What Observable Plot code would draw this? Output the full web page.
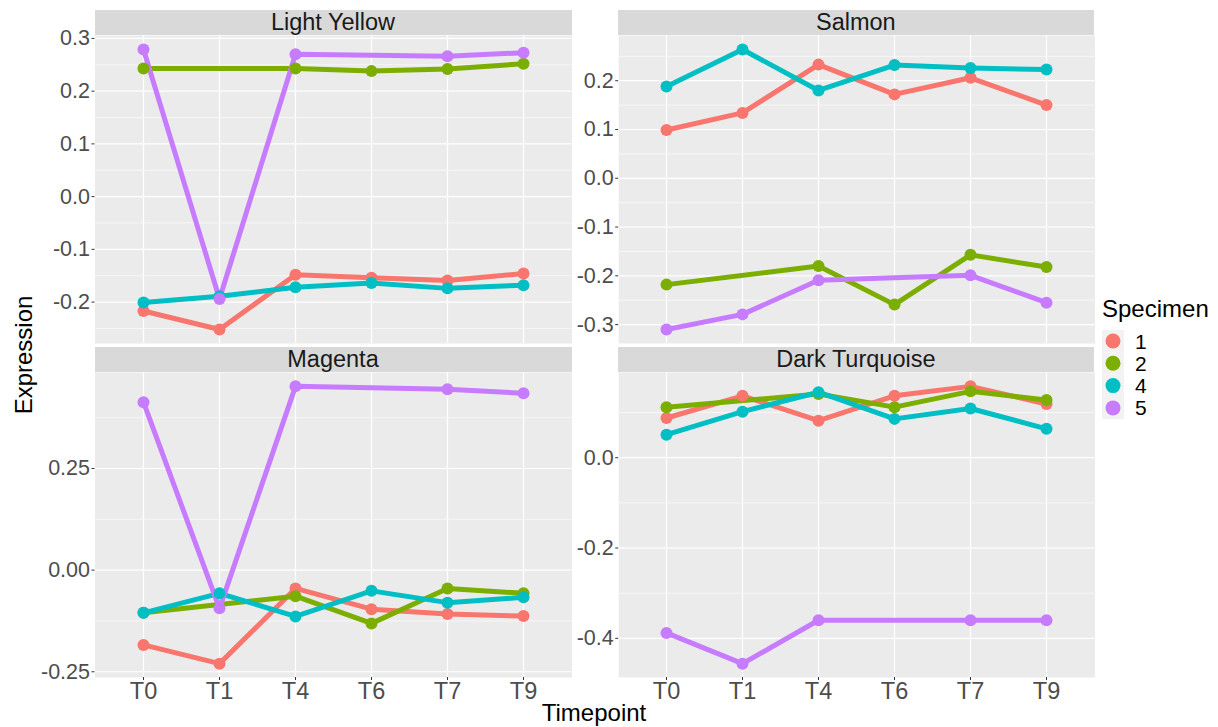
<!DOCTYPE html>
<html><head><meta charset="utf-8">
<script src="https://cdn.jsdelivr.net/npm/d3@7"></script>
<script src="https://cdn.jsdelivr.net/npm/@observablehq/plot@0.6"></script>
<style>
body{margin:0;background:#fff;font-family:"Liberation Sans",Arial,sans-serif;}
#chart{position:relative;width:1218px;height:727px;overflow:hidden;background:#fff;}
.strip{position:absolute;background:#D9D9D9;color:#1A1A1A;font-size:23.5px;text-align:center;}
.pan{position:absolute;}
.pan svg{overflow:visible;}
#overlay{position:absolute;left:0;top:0;pointer-events:none;}
</style></head>
<body><div id="chart"></div>
<script>
const timepoints = ["T0","T1","T4","T6","T7","T9"];
const specimens = ["1","2","4","5"];
const colors = ["#F8766D","#7CAE00","#00BFC4","#C77CFF"];
const panelNames = ["Light Yellow","Salmon","Magenta","Dark Turquoise"];

// values per specimen at T0,T1,T4,T6,T7,T9 (null = no measurement)
const lightYellow = {
  "1": [-0.217,-0.252,-0.148,-0.154,-0.159,-0.146],
  "2": [0.243,null,0.243,0.238,0.242,0.252],
  "4": [-0.201,-0.189,-0.172,-0.164,-0.174,-0.168],
  "5": [0.279,-0.194,0.270,null,0.266,0.273]
};
const salmon = {
  "1": [0.099,0.134,0.233,0.172,0.206,0.150],
  "2": [-0.218,null,-0.180,-0.259,-0.157,-0.182],
  "4": [0.188,0.264,0.180,0.232,0.226,0.223],
  "5": [-0.310,-0.279,-0.209,null,-0.199,-0.255]
};
const magenta = {
  "1": [-0.184,-0.230,-0.045,-0.096,-0.108,-0.113],
  "2": [-0.105,null,-0.064,-0.131,-0.045,-0.057],
  "4": [-0.105,-0.057,-0.114,-0.051,-0.080,-0.067],
  "5": [0.413,-0.094,0.452,null,0.445,0.435]
};
const darkTurquoise = {
  "1": [0.088,0.137,0.082,0.137,0.158,0.119],
  "2": [0.112,null,0.141,0.112,0.147,0.128],
  "4": [0.051,0.102,0.145,0.086,0.109,0.064],
  "5": [-0.388,-0.456,-0.360,null,-0.360,-0.360]
};

const ticksLY = [-0.2,-0.1,0.0,0.1,0.2,0.3];
const ticksSA = [-0.3,-0.2,-0.1,0.0,0.1,0.2];
const ticksMA = [-0.25,0.0,0.25];
const ticksDT = [-0.4,-0.2,0.0];

const chart = document.getElementById("chart");
const L = {leftX:94.5, leftW:477, rightX:617.7, rightW:476.3, topY:35, topH:308, botY:372, botH:305};

function rowsOf(series){
  const rows=[];
  specimens.forEach(s=>series[s].forEach((v,i)=>{ if(v!=null) rows.push({t:timepoints[i], s, v}); }));
  return rows;
}
function minorOf(ticks, domain){
  const step = ticks[1]-ticks[0];
  const out=[];
  for(let k=-1;k<ticks.length;k++){
    const m = ticks[0]+step*(k+0.5);
    if(m>=domain[0] && m<=domain[1]) out.push(m);
  }
  return out;
}
function makePanel(name, series, ticks, fmt, col, row){
  const rows = rowsOf(series);
  const ext = d3.extent(rows, d=>d.v);
  const pad = (ext[1]-ext[0])*0.05;
  const domain = [ext[0]-pad, ext[1]+pad];
  const minor = minorOf(ticks, domain);
  const svgLeft = col===0 ? 0 : L.leftX+L.leftW;
  const plotX = col===0 ? L.leftX : L.rightX;
  const plotW = col===0 ? L.leftW : L.rightW;
  const plotY = row===0 ? L.topY : L.botY;
  const plotH = row===0 ? L.topH : L.botH;
  const mb = row===1 ? 34 : 0;
  const f = d3.format(fmt);
  const marks = [
    Plot.frame({fill:"#EBEBEB", stroke:null}),
    Plot.ruleY(minor, {stroke:"#FFFFFF", strokeWidth:0.6}),
    Plot.ruleY(ticks, {stroke:"#FFFFFF", strokeWidth:1.2}),
    Plot.ruleX(timepoints, {stroke:"#FFFFFF", strokeWidth:1.2}),
    Plot.line(rows, {x:"t", y:"v", z:"s", stroke:"s", strokeWidth:5, strokeLinejoin:"round", strokeLinecap:"butt"}),
    Plot.dot(rows, {x:"t", y:"v", fill:"s", r:6, stroke:null}),
    Plot.axisY(ticks, {tickFormat:d=>f(d).replace("\u2212","-"), tickSize:3, tickPadding:2, fontSize:21.5, fill:"#4D4D4D", stroke:"#333333", label:null})
  ];
  if(row===1) marks.push(Plot.axisX({tickSize:3, tickPadding:2, fontSize:23.5, fill:"#4D4D4D", stroke:"#333333", label:null}));
  else marks.push(Plot.axisX({ticks:[], label:null}));
  const p = Plot.plot({
    width: plotX+plotW-svgLeft, height: plotH+mb,
    marginLeft: plotX-svgLeft, marginRight:0, marginTop:0, marginBottom:mb,
    style:{background:"transparent", fontFamily:"'Liberation Sans',Arial,sans-serif", overflow:"visible"},
    x:{type:"point", domain:timepoints, padding:0.6},
    y:{domain},
    color:{domain:specimens, range:colors},
    marks
  });
  const wrap = document.createElement("div");
  wrap.className="pan";
  wrap.style.left = svgLeft+"px"; wrap.style.top = plotY+"px";
  wrap.appendChild(p);
  chart.appendChild(wrap);
  const st = document.createElement("div");
  st.className="strip";
  const sy = row===0 ? 10 : 346.5;
  st.style.left=plotX+"px"; st.style.width=plotW+"px"; st.style.top=sy+"px";
  st.style.height=(plotY-sy)+"px"; st.style.lineHeight=(plotY-sy)+"px";
  st.textContent=name;
  chart.appendChild(st);
}
makePanel(panelNames[0], lightYellow, ticksLY, ".1f", 0, 0);
makePanel(panelNames[1], salmon, ticksSA, ".1f", 1, 0);
makePanel(panelNames[2], magenta, ticksMA, ".2f", 0, 1);
makePanel(panelNames[3], darkTurquoise, ticksDT, ".1f", 1, 1);

// titles + legend
const ov = d3.select(chart).append("svg").attr("id","overlay").attr("width",1218).attr("height",727)
  .style("font-family","'Liberation Sans',Arial,sans-serif");
ov.append("text").attr("x",594).attr("y",721).attr("text-anchor","middle").attr("font-size",24).attr("fill","#000").text("Timepoint");
ov.append("text").attr("transform","translate(32,355) rotate(-90)").attr("text-anchor","middle").attr("font-size",24).attr("fill","#000").text("Expression");
ov.append("text").attr("x",1102).attr("y",317).attr("font-size",24).attr("fill","#000").text("Specimen");
specimens.forEach((s,i)=>{
  const cy = 341 + i*22.3;
  ov.append("rect").attr("x",1102).attr("y",cy-11).attr("width",22).attr("height",22.3).attr("fill","#F2F2F2");
  ov.append("circle").attr("cx",1113).attr("cy",cy).attr("r",7.5).attr("fill",colors[i]);
  ov.append("text").attr("x",1135).attr("y",cy+7.5).attr("font-size",21).attr("fill","#000").text(s);
});
</script>
</body></html>
